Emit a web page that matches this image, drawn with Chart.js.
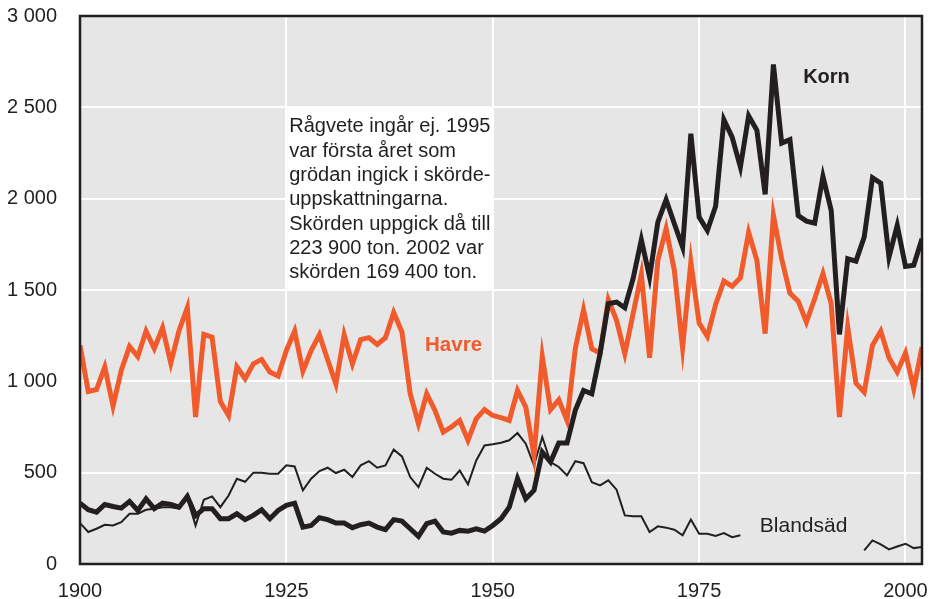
<!DOCTYPE html>
<html>
<head>
<meta charset="utf-8">
<script src="https://cdn.jsdelivr.net/npm/chart.js@4.4.1/dist/chart.umd.min.js"></script>
<style>
    body { margin: 0; background: #fff; }
    canvas { display: block; }
</style>
</head>
<body>
<canvas id="myChart" width="929" height="599"></canvas>
<script>
// skörd i 1 000 ton, 1900-2002
const years = [];
for (let y = 1900; y <= 2002; y++) years.push(y);

const havre = [
    1197, 945, 955, 1078, 865, 1060, 1191, 1135, 1275, 1180,
    1293, 1100, 1279, 1403, 805, 1257, 1242, 890, 813, 1080,
    1014, 1096, 1120, 1051, 1029, 1169, 1275, 1056, 1169, 1255,
    1118, 985, 1255, 1096, 1228, 1239, 1202, 1239, 1376, 1270,
    932, 768, 932, 841, 722, 750, 786, 677, 795, 845,
    813, 801, 786, 950, 859, 594, 1136, 845, 899, 786,
    1178, 1392, 1178, 1155, 1447, 1334, 1151, 1370, 1585, 1129,
    1662, 1836, 1607, 1184, 1653, 1319, 1246, 1421, 1549, 1520,
    1567, 1816, 1662, 1261, 1908, 1671, 1483, 1439, 1324, 1452,
    1589, 1425, 804, 1297, 990, 941, 1197, 1275, 1129, 1051,
    1155, 960, 1187
];

const korn = [
    333, 297, 284, 326, 315, 306, 343, 293, 357, 303,
    333, 326, 311, 370, 265, 303, 303, 248, 248, 275,
    243, 266, 297, 248, 293, 321, 333, 202, 211, 253,
    243, 224, 224, 199, 215, 224, 202, 188, 243, 235,
    193, 151, 221, 235, 175, 169, 184, 180, 193, 180,
    211, 248, 311, 467, 357, 403, 613, 558, 662, 662,
    841, 950, 932, 1151, 1425, 1434, 1403, 1562, 1775, 1571,
    1872, 1994, 1863, 1735, 2356, 1899, 1826, 1958, 2432, 2337,
    2173, 2453, 2374, 2023, 2735, 2304, 2323, 1908, 1877, 1866,
    2122, 1936, 1257, 1671, 1658, 1790, 2115, 2085, 1680, 1854,
    1629, 1635, 1781
];

// Blandsäd saknas 1981-1994
const blandsad = [
    224, 175, 193, 215, 211, 229, 275, 275, 297, 303,
    311, 310, 303, 360, 210, 352, 370, 311, 375, 467,
    450, 500, 500, 494, 494, 540, 534, 403, 467, 509,
    527, 498, 516, 476, 540, 563, 527, 540, 626, 589,
    476, 421, 527, 494, 467, 461, 512, 436, 567, 649,
    655, 664, 677, 717, 659, 540, 695, 558, 531, 485,
    563, 552, 448, 430, 458, 407, 266, 261, 261, 175,
    206, 199, 188, 157, 243, 166, 166, 153, 169, 147,
    157, null, null, null, null, null, null, null, null, null,
    null, null, null, null, null, 74, 129, 107, 80, 96,
    111, 87, 93
];

const xTicks = [1900, 1925, 1950, 1975, 2000];
const yTicks = [0, 500, 1000, 1500, 2000, 2500, 3000];
const yTickLabels = ['0', '500', '1 000', '1 500', '2 000', '2 500', '3 000'];

const noteLines = [
    'Rågvete ingår ej. 1995',
    'var första året som',
    'grödan ingick i skörde-',
    'uppskattningarna.',
    'Skörden uppgick då till',
    '223 900 ton. 2002 var',
    'skörden 169 400 ton.'
];

const FONT = '"Liberation Sans", Arial, Helvetica, sans-serif';
const INK = '#231f20';
const ORANGE = '#f15a2b';

function toPoints(values) {
    return years.map((yr, i) => ({x: yr, y: values[i]}));
}

const plotBackground = {
    id: 'plotBackground',
    beforeDraw(chart) {
        const {ctx, chartArea: a} = chart;
        ctx.save();
        ctx.fillStyle = '#e6e6e6';
        ctx.fillRect(a.left, a.top, a.right - a.left, a.bottom - a.top);
        ctx.restore();
    }
};

const noteBox = {
    id: 'noteBox',
    beforeDatasetsDraw(chart) {
        const {ctx, scales: {x, y}} = chart;
        let left = x.getPixelForValue(1925.1);
        let right = x.getPixelForValue(1950.15);
        let top = y.getPixelForValue(2500);
        let bottom = y.getPixelForValue(1500);
        ctx.save();
        ctx.fillStyle = '#fff';
        ctx.fillRect(left, top, right - left, bottom - top);
        ctx.fillStyle = INK;
        ctx.font = '20px ' + FONT;
        ctx.textBaseline = 'alphabetic';
        noteLines.forEach((line, i) => {
            ctx.fillText(line, left + 2, top + 25 + i * 24.3);
        });
        ctx.restore();
    }
};

const frameAndLabels = {
    id: 'frameAndLabels',
    afterDatasetsDraw(chart) {
        const {ctx, chartArea: a, scales: {x, y}} = chart;
        ctx.save();
        ctx.strokeStyle = INK;
        ctx.lineWidth = 2.5;
        ctx.strokeRect(a.left, a.top, a.right - a.left, a.bottom - a.top);

        ctx.textBaseline = 'alphabetic';
        ctx.font = 'bold 20px ' + FONT;
        ctx.fillStyle = INK;
        ctx.fillText('Korn', x.getPixelForValue(1987.6), y.getPixelForValue(2631));
        ctx.fillStyle = ORANGE;
        ctx.font = 'bold 20.5px ' + FONT;
        ctx.fillText('Havre', x.getPixelForValue(1941.8), y.getPixelForValue(1165));
        ctx.fillStyle = INK;
        ctx.font = '21px ' + FONT;
        ctx.fillText('Blandsäd', x.getPixelForValue(1982.35), y.getPixelForValue(175));
        ctx.restore();
    }
};

const ctx = document.getElementById('myChart').getContext('2d');
const myChart = new Chart(ctx, {
    type: 'line',
    data: {
        datasets: [{
            label: 'Korn',
            data: toPoints(korn),
            borderColor: INK,
            borderWidth: 5
        }, {
            label: 'Havre',
            data: toPoints(havre),
            borderColor: ORANGE,
            borderWidth: 5
        }, {
            label: 'Blandsäd',
            data: toPoints(blandsad),
            borderColor: INK,
            borderWidth: 2
        }]
    },
    options: {
        responsive: false,
        devicePixelRatio: 1,
        animation: false,
        spanGaps: false,
        elements: {point: {radius: 0}, line: {tension: 0}},
        layout: {padding: {left: 0, right: 7, top: 16, bottom: 0}},
        plugins: {legend: {display: false}, tooltip: {enabled: false}},
        scales: {
            x: {
                type: 'linear',
                min: 1900,
                max: 2002,
                afterBuildTicks: (scale) => {
                    scale.ticks = xTicks.map(v => ({value: v}));
                },
                afterFit: (scale) => {
                    scale.height = 35;
                    scale.paddingLeft = 0;
                    scale.paddingRight = 0;
                },
                grid: {color: '#fff', lineWidth: 2, drawTicks: false},
                border: {display: false},
                ticks: {
                    color: INK,
                    font: {family: FONT, size: 20},
                    padding: 15,
                    maxRotation: 0,
                    callback: (v) => String(v)
                }
            },
            y: {
                min: 0,
                max: 3000,
                afterBuildTicks: (scale) => {
                    scale.ticks = yTicks.map(v => ({value: v}));
                },
                afterFit: (scale) => {
                    scale.width = 80;
                    scale.paddingTop = 0;
                    scale.paddingBottom = 0;
                },
                grid: {color: '#fff', lineWidth: 2, drawTicks: false},
                border: {display: false},
                ticks: {
                    color: INK,
                    font: {family: FONT, size: 20},
                    padding: 23,
                    callback: (v, i) => yTickLabels[i]
                }
            }
        }
    },
    plugins: [plotBackground, noteBox, frameAndLabels]
});
</script>
</body>
</html>
